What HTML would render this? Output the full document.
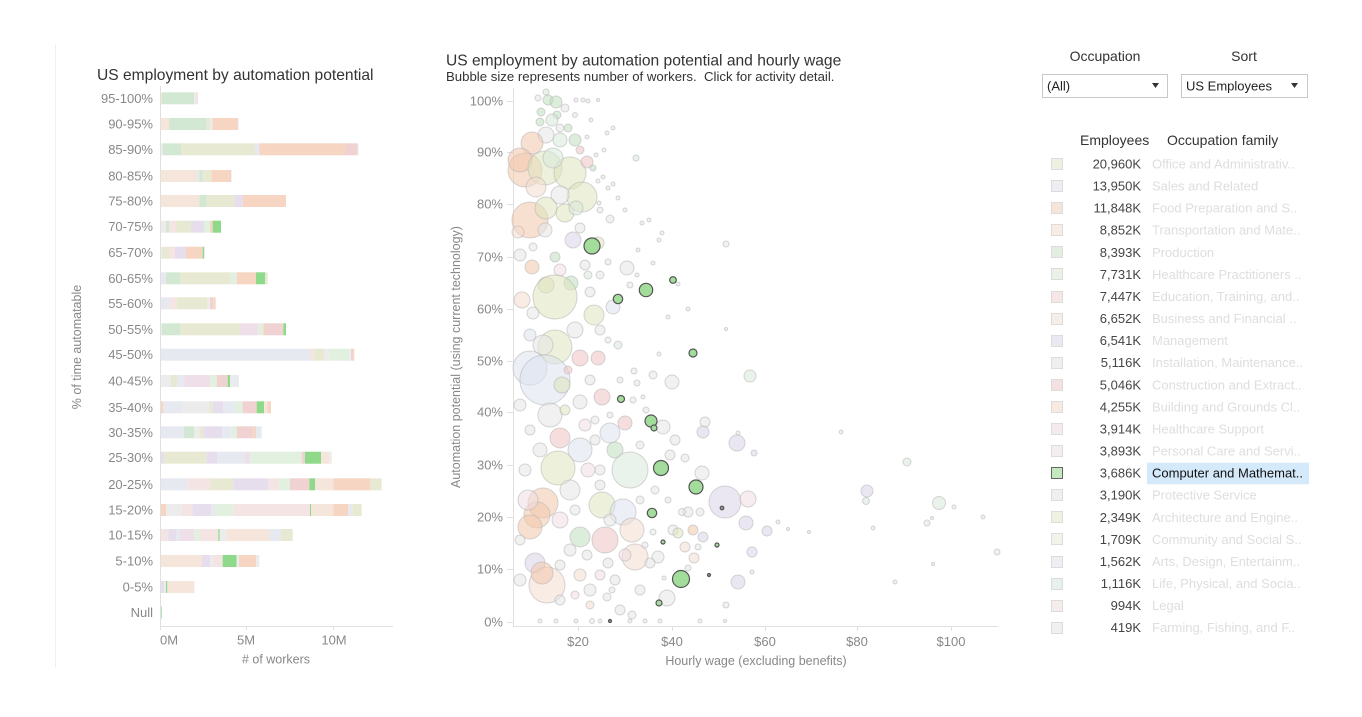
<!DOCTYPE html>
<html><head><meta charset="utf-8"><style>
html,body{margin:0;padding:0;background:#fff;}
body{width:1362px;height:712px;overflow:hidden;}
svg text{font-family:"Liberation Sans",Arial,sans-serif;}
.P{fill:#f6d6c2}.PP{fill:#f6e5da}.G{fill:#d3e8d3}.O{fill:#e8e9d2}.LB{fill:#e7e9f1}.L{fill:#e6deec}
.K{fill:#f0d2d2}.KP{fill:#f4e4e4}.KL{fill:#efdfe9}.GP{fill:#e2f0e0}.Y{fill:#ececec}.Y2{fill:#e9ebee}.BG{fill:#8fd98a}
.b circle{stroke:#b5b5b5;stroke-opacity:.55;stroke-width:1;fill-opacity:.55}
.b .P{fill:#f3c7ab}.b .PP{fill:#f3dccd}.b .G{fill:#bfe0bd}.b .O{fill:#dfe3bb}.b .LB{fill:#dde1ee}.b .L{fill:#dbd4e8}
.b .K{fill:#eec2c2}.b .KP{fill:#f1dde2}.b .GP{fill:#d8eada}.b .Y{fill:#e6e6e6}
.h circle{fill:#a3dd9b;stroke:#555;stroke-width:1.2}
.h circle.d{fill:#999;stroke:#555}
</style></head><body>
<svg width="1362" height="712" viewBox="0 0 1362 712" xmlns="http://www.w3.org/2000/svg">
<line x1="55.5" y1="45" x2="55.5" y2="667" stroke="#efefef"/>

<!-- LEFT CHART -->
<text x="97" y="80" font-size="15.6" fill="#333">US employment by automation potential</text>
<text transform="translate(81,347) rotate(-90)" text-anchor="middle" font-size="12.5" fill="#888">% of time automatable</text>
<g font-size="13" fill="#888" text-anchor="end">
<text x="153" y="102.8">95-100%</text>
<text x="153" y="128.5">90-95%</text>
<text x="153" y="153.8">85-90%</text>
<text x="153" y="180.5">80-85%</text>
<text x="153" y="205.5">75-80%</text>
<text x="153" y="231.2">70-75%</text>
<text x="153" y="257.2">65-70%</text>
<text x="153" y="282.8">60-65%</text>
<text x="153" y="307.8">55-60%</text>
<text x="153" y="333.8">50-55%</text>
<text x="153" y="359.2">45-50%</text>
<text x="153" y="385.5">40-45%</text>
<text x="153" y="411.8">35-40%</text>
<text x="153" y="436.8">30-35%</text>
<text x="153" y="462.2">25-30%</text>
<text x="153" y="488.8">20-25%</text>
<text x="153" y="514.5">15-20%</text>
<text x="153" y="539.5">10-15%</text>
<text x="153" y="565.5">5-10%</text>
<text x="153" y="591.5">0-5%</text>
<text x="153" y="616.8">Null</text>
</g>
<g transform="translate(60,0) scale(0.33333,1)">
<g transform="translate(0,92.3)"><rect x="300" width="5" height="12" class="PP"/><rect x="305" width="98" height="12" class="G"/><rect x="403" width="7" height="12" class="Y"/><rect x="410" width="3" height="12" class="K"/></g>
<g transform="translate(0,118)"><rect x="300" width="27" height="12" class="PP"/><rect x="327" width="113" height="12" class="G"/><rect x="440" width="10" height="12" class="O"/><rect x="450" width="7" height="12" class="Y"/><rect x="457" width="75" height="12" class="P"/><rect x="532" width="3" height="12" class="K"/></g>
<g transform="translate(0,143.3)"><rect x="300" width="8" height="12" class="Y"/><rect x="308" width="55" height="12" class="G"/><rect x="363" width="222" height="12" class="O"/><rect x="585" width="13" height="12" class="LB"/><rect x="598" width="257" height="12" class="P"/><rect x="855" width="38" height="12" class="K"/><rect x="893" width="3" height="12" class="Y"/></g>
<g transform="translate(0,170)"><rect x="300" width="110" height="12" class="PP"/><rect x="410" width="8" height="12" class="LB"/><rect x="418" width="10" height="12" class="G"/><rect x="428" width="27" height="12" class="O"/><rect x="455" width="55" height="12" class="P"/><rect x="510" width="4" height="12" class="K"/></g>
<g transform="translate(0,195)"><rect x="300" width="118" height="12" class="PP"/><rect x="418" width="22" height="12" class="G"/><rect x="440" width="83" height="12" class="O"/><rect x="523" width="25" height="12" class="L"/><rect x="548" width="130" height="12" class="P"/></g>
<g transform="translate(0,220.7)"><rect x="300" width="18" height="12" class="Y"/><rect x="318" width="9" height="12" class="G"/><rect x="327" width="21" height="12" class="KP"/><rect x="348" width="45" height="12" class="O"/><rect x="393" width="39" height="12" class="L"/><rect x="432" width="18" height="12" class="GP"/><rect x="450" width="8" height="12" class="P"/><rect x="458" width="25" height="12" class="BG"/></g>
<g transform="translate(0,246.7)"><rect x="300" width="5" height="12" class="Y"/><rect x="305" width="23" height="12" class="O"/><rect x="328" width="17" height="12" class="KP"/><rect x="345" width="33" height="12" class="L"/><rect x="378" width="50" height="12" class="P"/><rect x="428" width="4" height="12" class="BG"/><rect x="432" width="3" height="12" class="Y"/></g>
<g transform="translate(0,272.3)"><rect x="300" width="18" height="12" class="LB"/><rect x="318" width="42" height="12" class="G"/><rect x="360" width="152" height="12" class="O"/><rect x="512" width="18" height="12" class="GP"/><rect x="530" width="58" height="12" class="P"/><rect x="588" width="27" height="12" class="BG"/><rect x="615" width="8" height="12" class="O"/></g>
<g transform="translate(0,297.3)"><rect x="300" width="28" height="12" class="LB"/><rect x="328" width="22" height="12" class="KP"/><rect x="350" width="93" height="12" class="O"/><rect x="443" width="7" height="12" class="Y"/><rect x="450" width="10" height="12" class="K"/><rect x="460" width="7" height="12" class="P"/></g>
<g transform="translate(0,323.3)"><rect x="300" width="5" height="12" class="Y"/><rect x="305" width="55" height="12" class="G"/><rect x="360" width="180" height="12" class="O"/><rect x="540" width="55" height="12" class="KL"/><rect x="595" width="15" height="12" class="GP"/><rect x="610" width="5" height="12" class="P"/><rect x="615" width="55" height="12" class="K"/><rect x="670" width="8" height="12" class="BG"/></g>
<g transform="translate(0,348.7)"><rect x="300" width="450" height="12" class="LB"/><rect x="750" width="10" height="12" class="KP"/><rect x="760" width="33" height="12" class="O"/><rect x="793" width="15" height="12" class="Y"/><rect x="808" width="60" height="12" class="GP"/><rect x="868" width="5" height="12" class="Y"/><rect x="873" width="7" height="12" class="K"/><rect x="880" width="3" height="12" class="P"/></g>
<g transform="translate(0,375)"><rect x="300" width="33" height="12" class="Y"/><rect x="333" width="20" height="12" class="O"/><rect x="353" width="20" height="12" class="LB"/><rect x="373" width="77" height="12" class="KL"/><rect x="450" width="20" height="12" class="GP"/><rect x="470" width="33" height="12" class="K"/><rect x="503" width="7" height="12" class="BG"/><rect x="510" width="10" height="12" class="Y"/><rect x="520" width="17" height="12" class="Y2"/></g>
<g transform="translate(0,401.3)"><rect x="300" width="10" height="12" class="P"/><rect x="310" width="58" height="12" class="LB"/><rect x="368" width="80" height="12" class="Y"/><rect x="448" width="10" height="12" class="O"/><rect x="458" width="32" height="12" class="L"/><rect x="490" width="35" height="12" class="LB"/><rect x="525" width="23" height="12" class="GP"/><rect x="548" width="42" height="12" class="K"/><rect x="590" width="22" height="12" class="BG"/><rect x="612" width="10" height="12" class="PP"/><rect x="622" width="11" height="12" class="P"/></g>
<g transform="translate(0,426.3)"><rect x="300" width="72" height="12" class="LB"/><rect x="372" width="31" height="12" class="G"/><rect x="403" width="15" height="12" class="Y"/><rect x="418" width="12" height="12" class="O"/><rect x="430" width="56" height="12" class="L"/><rect x="486" width="29" height="12" class="LB"/><rect x="515" width="15" height="12" class="GP"/><rect x="530" width="50" height="12" class="K"/><rect x="580" width="8" height="12" class="P"/><rect x="588" width="17" height="12" class="LB"/></g>
<g transform="translate(0,451.7)"><rect x="300" width="13" height="12" class="L"/><rect x="313" width="127" height="12" class="O"/><rect x="440" width="32" height="12" class="L"/><rect x="472" width="83" height="12" class="LB"/><rect x="555" width="15" height="12" class="KL"/><rect x="570" width="155" height="12" class="GP"/><rect x="725" width="10" height="12" class="K"/><rect x="735" width="48" height="12" class="BG"/><rect x="783" width="25" height="12" class="PP"/><rect x="808" width="7" height="12" class="Y"/></g>
<g transform="translate(0,478.3)"><rect x="300" width="83" height="12" class="LB"/><rect x="383" width="67" height="12" class="KP"/><rect x="450" width="70" height="12" class="O"/><rect x="520" width="105" height="12" class="L"/><rect x="625" width="33" height="12" class="KP"/><rect x="658" width="32" height="12" class="GP"/><rect x="690" width="58" height="12" class="K"/><rect x="748" width="17" height="12" class="BG"/><rect x="765" width="55" height="12" class="PP"/><rect x="820" width="110" height="12" class="P"/><rect x="930" width="35" height="12" class="O"/></g>
<g transform="translate(0,504)"><rect x="300" width="18" height="12" class="P"/><rect x="318" width="47" height="12" class="Y"/><rect x="365" width="32" height="12" class="KP"/><rect x="397" width="56" height="12" class="L"/><rect x="453" width="12" height="12" class="LB"/><rect x="465" width="55" height="12" class="GP"/><rect x="520" width="230" height="12" class="KP"/><rect x="750" width="3" height="12" class="BG"/><rect x="753" width="67" height="12" class="PP"/><rect x="820" width="45" height="12" class="P"/><rect x="865" width="12" height="12" class="LB"/><rect x="877" width="28" height="12" class="O"/></g>
<g transform="translate(0,529)"><rect x="300" width="25" height="12" class="KP"/><rect x="325" width="25" height="12" class="L"/><rect x="350" width="10" height="12" class="LB"/><rect x="360" width="43" height="12" class="KL"/><rect x="403" width="17" height="12" class="GP"/><rect x="420" width="55" height="12" class="KP"/><rect x="475" width="4" height="12" class="BG"/><rect x="479" width="21" height="12" class="Y"/><rect x="500" width="128" height="12" class="PP"/><rect x="628" width="35" height="12" class="LB"/><rect x="663" width="35" height="12" class="O"/></g>
<g transform="translate(0,555)"><rect x="300" width="126" height="12" class="PP"/><rect x="426" width="24" height="12" class="L"/><rect x="450" width="8" height="12" class="Y"/><rect x="458" width="30" height="12" class="KP"/><rect x="488" width="42" height="12" class="BG"/><rect x="530" width="7" height="12" class="Y"/><rect x="537" width="51" height="12" class="P"/><rect x="588" width="10" height="12" class="Y"/></g>
<g transform="translate(0,581)"><rect x="300" width="13" height="12" class="L"/><rect x="313" width="5" height="12" class="Y"/><rect x="318" width="4" height="12" class="BG"/><rect x="322" width="81" height="12" class="PP"/></g>
<g transform="translate(0,606.3)"><rect x="300" width="5" height="12" class="BG"/></g>
</g>
<line x1="160.5" y1="86" x2="160.5" y2="630" stroke="#e0e0e0"/>
<line x1="160" y1="626.5" x2="393" y2="626.5" stroke="#e0e0e0"/>
<line x1="246.5" y1="626" x2="246.5" y2="630" stroke="#e0e0e0"/>
<line x1="333.5" y1="626" x2="333.5" y2="630" stroke="#e0e0e0"/>
<g font-size="13" fill="#888">
<text x="160" y="644.5">0M</text>
<text x="246" y="644.5" text-anchor="middle">5M</text>
<text x="334" y="644.5" text-anchor="middle">10M</text>
<text x="276" y="663.5" text-anchor="middle" font-size="12.5">#&#160;of workers</text>
</g>

<!-- SCATTER -->
<text x="446" y="65.5" font-size="15.6" fill="#333">US employment by automation potential and hourly wage</text>
<text x="446" y="81" font-size="13.2" fill="#333" xml:space="preserve">Bubble size represents number of workers.  Click for activity detail.</text>
<text transform="translate(460,357) rotate(-90)" text-anchor="middle" font-size="12.5" fill="#888">Automation potential (using current technology)</text>
<g font-size="13" fill="#888" text-anchor="end">
<text x="503" y="105.5">100%</text>
<text x="503" y="156.5">90%</text>
<text x="503" y="208.5">80%</text>
<text x="503" y="261.5">70%</text>
<text x="503" y="313.5">60%</text>
<text x="503" y="365.5">50%</text>
<text x="503" y="416.5">40%</text>
<text x="503" y="469.5">30%</text>
<text x="503" y="521.5">20%</text>
<text x="503" y="573.5">10%</text>
<text x="503" y="626.5">0%</text>
</g>
<g stroke="#e0e0e0">
<line x1="513.5" y1="88" x2="513.5" y2="627" />
<line x1="513" y1="626.5" x2="998" y2="626.5" />
<line x1="507" y1="101.5" x2="513" y2="101.5"/><line x1="507" y1="152.5" x2="513" y2="152.5"/>
<line x1="507" y1="204.5" x2="513" y2="204.5"/><line x1="507" y1="257.5" x2="513" y2="257.5"/>
<line x1="507" y1="309.5" x2="513" y2="309.5"/><line x1="507" y1="361.5" x2="513" y2="361.5"/>
<line x1="507" y1="412.5" x2="513" y2="412.5"/><line x1="507" y1="465.5" x2="513" y2="465.5"/>
<line x1="507" y1="517.5" x2="513" y2="517.5"/><line x1="507" y1="569.5" x2="513" y2="569.5"/>
<line x1="507" y1="622.5" x2="513" y2="622.5"/>
<line x1="578.5" y1="626" x2="578.5" y2="631"/><line x1="672.5" y1="626" x2="672.5" y2="631"/>
<line x1="765.5" y1="626" x2="765.5" y2="631"/><line x1="857.5" y1="626" x2="857.5" y2="631"/>
<line x1="951.5" y1="626" x2="951.5" y2="631"/>
</g>
<g font-size="13" fill="#888" text-anchor="middle">
<text x="578" y="646">$20</text>
<text x="672" y="646">$40</text>
<text x="765" y="646">$60</text>
<text x="857" y="646">$80</text>
<text x="951" y="646">$100</text>
<text x="756" y="665" font-size="12.5">Hourly wage (excluding benefits)</text>
</g>

<g class="b">
<circle cx="548" cy="100" r="5" class="G"/><circle cx="556" cy="102" r="6" class="G"/><circle cx="541" cy="112" r="4" class="G"/>
<circle cx="557" cy="115" r="4" class="G"/><circle cx="540" cy="122" r="4" class="G"/><circle cx="568" cy="128" r="4" class="G"/>
<circle cx="552" cy="120" r="6" class="GP"/><circle cx="565" cy="108" r="4" class="Y"/><circle cx="546" cy="92" r="3" class="GP"/>
<circle cx="576" cy="100" r="2" class="Y"/><circle cx="583" cy="100" r="2" class="Y"/><circle cx="588" cy="101" r="2" class="Y"/><circle cx="598" cy="100" r="1.5" class="Y"/>
<circle cx="575" cy="115" r="2.5" class="Y"/><circle cx="591" cy="120" r="2" class="Y"/><circle cx="613" cy="128" r="2" class="Y"/><circle cx="607" cy="133" r="2" class="Y"/>
<circle cx="546" cy="135" r="8" class="Y"/><circle cx="560" cy="140" r="7" class="GP"/><circle cx="575" cy="140" r="6" class="G"/><circle cx="587" cy="137" r="2" class="Y"/>
<circle cx="532" cy="143" r="11" class="P"/><circle cx="525" cy="170" r="17" class="P"/><circle cx="520" cy="160" r="12" class="P"/>
<circle cx="545" cy="168" r="17" class="O"/><circle cx="570" cy="173" r="16" class="O"/><circle cx="553" cy="158" r="10" class="GP"/>
<circle cx="587" cy="162" r="6" class="K"/><circle cx="593" cy="168" r="3" class="G"/><circle cx="596" cy="155" r="2" class="Y"/><circle cx="604" cy="150" r="2" class="Y"/>
<circle cx="636" cy="158" r="3" class="GP"/><circle cx="536" cy="187" r="10" class="PP"/><circle cx="582" cy="197" r="15" class="O"/><circle cx="560" cy="195" r="9" class="Y"/>
<circle cx="603" cy="177" r="2" class="Y"/><circle cx="598" cy="181" r="2" class="Y"/><circle cx="613" cy="184" r="2" class="Y"/><circle cx="608" cy="188" r="2" class="Y"/>
<circle cx="618" cy="198" r="2" class="Y"/><circle cx="599" cy="203" r="2" class="Y"/><circle cx="625" cy="210" r="2" class="Y"/>
<circle cx="530" cy="220" r="18" class="P"/><circle cx="546" cy="208" r="11" class="O"/><circle cx="565" cy="213" r="9" class="O"/><circle cx="576" cy="208" r="7" class="GP"/>
<circle cx="545" cy="230" r="7" class="Y"/><circle cx="610" cy="219" r="4" class="Y"/><circle cx="642" cy="223" r="2" class="Y"/><circle cx="649" cy="220" r="2" class="Y"/>
<circle cx="662" cy="233" r="2" class="Y"/><circle cx="659" cy="240" r="2" class="Y"/><circle cx="573" cy="240" r="8" class="L"/><circle cx="598" cy="243" r="6" class="O"/>
<circle cx="533" cy="247" r="4" class="Y"/><circle cx="555" cy="257" r="5" class="G"/><circle cx="638" cy="250" r="2" class="Y"/><circle cx="532" cy="267" r="7" class="P"/>
<circle cx="571" cy="283" r="7" class="G"/><circle cx="627" cy="268" r="7" class="Y"/><circle cx="653" cy="263" r="2" class="Y"/><circle cx="637" cy="275" r="2" class="Y"/>
<circle cx="560" cy="270" r="6" class="KP"/><circle cx="585" cy="265" r="5" class="Y"/><circle cx="600" cy="275" r="4" class="Y"/><circle cx="546" cy="285" r="8" class="O"/>
<circle cx="555" cy="297" r="22" class="O"/><circle cx="594" cy="315" r="10" class="O"/><circle cx="613" cy="307" r="7" class="LB"/><circle cx="533" cy="313" r="6" class="Y"/>
<circle cx="522" cy="300" r="8" class="PP"/><circle cx="678" cy="284" r="2" class="Y"/><circle cx="688" cy="309" r="2" class="Y"/><circle cx="668" cy="317" r="2" class="Y"/>
<circle cx="726" cy="244" r="3" class="Y"/><circle cx="726" cy="329" r="1.5" class="Y"/><circle cx="630" cy="285" r="3" class="Y"/><circle cx="575" cy="330" r="8" class="Y"/>
<circle cx="600" cy="330" r="5" class="Y"/><circle cx="530" cy="335" r="6" class="LB"/><circle cx="590" cy="292" r="5" class="Y"/><circle cx="520" cy="255" r="6" class="Y"/>
<circle cx="580" cy="228" r="5" class="Y"/><circle cx="518" cy="232" r="6" class="PP"/><circle cx="588" cy="275" r="4" class="GP"/><circle cx="608" cy="262" r="3" class="Y"/>
<circle cx="538" cy="98" r="3" class="Y"/><circle cx="560" cy="128" r="4" class="Y"/><circle cx="580" cy="150" r="4" class="K"/><circle cx="600" cy="210" r="3" class="Y"/>
<circle cx="555" cy="347" r="17" class="O"/><circle cx="543" cy="345" r="10" class="Y"/><circle cx="580" cy="358" r="8" class="K"/><circle cx="598" cy="358" r="7" class="K"/>
<circle cx="530" cy="368" r="17" class="LB"/><circle cx="545" cy="380" r="25" class="LB"/><circle cx="562" cy="385" r="8" class="O"/><circle cx="580" cy="402" r="7" class="Y"/>
<circle cx="550" cy="415" r="12" class="Y"/><circle cx="602" cy="397" r="8" class="K"/><circle cx="625" cy="423" r="7" class="K"/><circle cx="610" cy="433" r="10" class="LB"/>
<circle cx="615" cy="450" r="8" class="G"/><circle cx="560" cy="438" r="10" class="K"/><circle cx="580" cy="450" r="12" class="LB"/><circle cx="558" cy="468" r="17" class="O"/>
<circle cx="630" cy="470" r="18" class="GP"/><circle cx="570" cy="490" r="10" class="Y"/><circle cx="663" cy="427" r="7" class="Y"/><circle cx="670" cy="455" r="5" class="Y"/>
<circle cx="675" cy="440" r="5" class="Y"/><circle cx="685" cy="458" r="4" class="Y"/><circle cx="672" cy="382" r="7" class="Y"/><circle cx="653" cy="375" r="4" class="Y"/>
<circle cx="659" cy="354" r="2" class="Y"/><circle cx="634" cy="371" r="3" class="Y"/><circle cx="637" cy="383" r="3" class="Y"/><circle cx="643" cy="397" r="2" class="Y"/>
<circle cx="646" cy="410" r="3" class="Y"/><circle cx="633" cy="400" r="3" class="Y"/><circle cx="702" cy="473" r="7" class="Y"/><circle cx="703" cy="432" r="6" class="L"/>
<circle cx="705" cy="422" r="5" class="Y"/><circle cx="737" cy="443" r="8" class="L"/><circle cx="738" cy="433" r="2" class="Y"/><circle cx="754" cy="453" r="3" class="L"/>
<circle cx="750" cy="376" r="6" class="GP"/><circle cx="841" cy="432" r="2" class="Y"/><circle cx="590" cy="380" r="5" class="Y"/><circle cx="595" cy="420" r="4" class="Y"/>
<circle cx="520" cy="405" r="6" class="Y"/><circle cx="530" cy="430" r="5" class="Y"/><circle cx="600" cy="470" r="5" class="Y"/><circle cx="610" cy="415" r="3" class="Y"/>
<circle cx="620" cy="380" r="3" class="Y"/><circle cx="585" cy="425" r="6" class="KP"/><circle cx="540" cy="450" r="7" class="Y"/><circle cx="525" cy="470" r="6" class="Y"/>
<circle cx="588" cy="470" r="7" class="KP"/><circle cx="600" cy="485" r="5" class="Y"/><circle cx="618" cy="345" r="4" class="GP"/><circle cx="608" cy="340" r="3" class="Y"/>
<circle cx="565" cy="410" r="5" class="O"/><circle cx="595" cy="440" r="5" class="Y"/><circle cx="640" cy="445" r="4" class="Y"/><circle cx="568" cy="370" r="4" class="K"/>
<circle cx="543" cy="503" r="15" class="P"/><circle cx="537" cy="515" r="13" class="P"/><circle cx="530" cy="527" r="12" class="P"/><circle cx="528" cy="500" r="10" class="KP"/>
<circle cx="602" cy="505" r="13" class="O"/><circle cx="623" cy="512" r="13" class="LB"/><circle cx="632" cy="530" r="12" class="PP"/><circle cx="605" cy="540" r="13" class="K"/>
<circle cx="580" cy="537" r="10" class="G"/><circle cx="635" cy="557" r="13" class="PP"/><circle cx="535" cy="563" r="10" class="L"/><circle cx="547" cy="585" r="18" class="PP"/>
<circle cx="542" cy="573" r="11" class="P"/><circle cx="587" cy="555" r="5" class="Y"/><circle cx="667" cy="598" r="8" class="Y"/><circle cx="620" cy="610" r="5" class="Y"/>
<circle cx="632" cy="615" r="4" class="Y"/><circle cx="607" cy="597" r="4" class="Y"/><circle cx="608" cy="563" r="5" class="Y"/><circle cx="668" cy="500" r="3" class="Y"/>
<circle cx="688" cy="512" r="5" class="Y"/><circle cx="682" cy="512" r="3.5" class="Y"/><circle cx="700" cy="512" r="4" class="Y"/><circle cx="673" cy="530" r="5" class="Y"/>
<circle cx="653" cy="532" r="3" class="Y"/><circle cx="678" cy="533" r="5" class="O"/><circle cx="693" cy="530" r="5" class="P"/><circle cx="703" cy="537" r="5" class="L"/>
<circle cx="685" cy="547" r="5" class="PP"/><circle cx="694" cy="558" r="5" class="PP"/><circle cx="658" cy="557" r="6" class="Y"/><circle cx="650" cy="563" r="5" class="Y"/>
<circle cx="688" cy="568" r="3" class="Y"/><circle cx="664" cy="578" r="2" class="Y"/><circle cx="698" cy="547" r="3" class="Y"/>
<circle cx="725" cy="502" r="16" class="L"/><circle cx="748" cy="499" r="8" class="KP"/><circle cx="746" cy="523" r="7" class="L"/><circle cx="767" cy="531" r="5" class="L"/>
<circle cx="778" cy="522" r="2" class="Y"/><circle cx="788" cy="529" r="1.5" class="Y"/><circle cx="809" cy="532" r="1.5" class="Y"/><circle cx="752" cy="552" r="5" class="L"/>
<circle cx="738" cy="582" r="7" class="L"/><circle cx="726" cy="605" r="3" class="Y"/><circle cx="752" cy="572" r="2" class="Y"/><circle cx="725" cy="621" r="1.5" class="Y"/>
<circle cx="867" cy="491" r="6" class="L"/><circle cx="866" cy="501" r="3.5" class="GP"/><circle cx="907" cy="462" r="4" class="GP"/><circle cx="939" cy="503" r="6.5" class="GP"/>
<circle cx="954" cy="507" r="2" class="Y"/><circle cx="983" cy="517" r="2" class="Y"/><circle cx="927" cy="523" r="3" class="Y"/><circle cx="932" cy="518" r="1.5" class="Y"/>
<circle cx="997" cy="552" r="3" class="Y"/><circle cx="933" cy="564" r="1.5" class="Y"/><circle cx="895" cy="582" r="2" class="Y"/><circle cx="873" cy="528" r="2" class="Y"/>
<circle cx="540" cy="621" r="2" class="Y"/><circle cx="556" cy="621" r="2" class="Y"/><circle cx="576" cy="621" r="2" class="Y"/><circle cx="592" cy="621" r="2.5" class="Y"/>
<circle cx="600" cy="621" r="2" class="Y"/><circle cx="630" cy="621" r="2" class="Y"/><circle cx="645" cy="621" r="2" class="Y"/><circle cx="660" cy="621" r="2" class="Y"/><circle cx="700" cy="621" r="2" class="Y"/>
<circle cx="570" cy="550" r="6" class="Y"/><circle cx="520" cy="540" r="5" class="Y"/><circle cx="560" cy="600" r="5" class="Y"/><circle cx="590" cy="590" r="6" class="Y"/>
<circle cx="600" cy="575" r="5" class="KP"/><circle cx="615" cy="580" r="5" class="Y"/><circle cx="640" cy="590" r="5" class="Y"/><circle cx="625" cy="555" r="6" class="KP"/>
<circle cx="520" cy="580" r="6" class="Y"/><circle cx="575" cy="510" r="5" class="Y"/><circle cx="560" cy="520" r="8" class="KP"/><circle cx="655" cy="490" r="4" class="Y"/>
<circle cx="640" cy="500" r="4" class="Y"/><circle cx="645" cy="545" r="3" class="Y"/><circle cx="610" cy="520" r="6" class="Y"/><circle cx="580" cy="575" r="6" class="PP"/>
<circle cx="590" cy="605" r="4" class="PP"/><circle cx="560" cy="565" r="5" class="Y"/><circle cx="575" cy="595" r="4" class="KP"/><circle cx="612" cy="590" r="3" class="Y"/>
</g>
<g class="h">
<circle cx="592" cy="246" r="8"/><circle cx="618" cy="299" r="4.7"/><circle cx="646" cy="290" r="6.7"/><circle cx="673" cy="280" r="3.3"/>
<circle cx="693" cy="353" r="4"/><circle cx="621" cy="399" r="3.5"/><circle cx="651" cy="421" r="6"/><circle cx="654" cy="428" r="3"/>
<circle cx="661" cy="468" r="7.5"/><circle cx="696" cy="487" r="7"/><circle cx="652" cy="513" r="4.7"/><circle cx="663" cy="542" r="2"/>
<circle cx="681" cy="579" r="8.5"/><circle cx="659" cy="603" r="3"/><circle cx="717" cy="545" r="2"/>
<circle class="d" cx="722" cy="508" r="1.8"/><circle class="d" cx="709" cy="575" r="1.5"/><circle class="d" cx="610" cy="621" r="1.5"/>
</g>

<!-- RIGHT PANEL -->
<g font-size="14" fill="#333" text-anchor="middle">
<text x="1105" y="61">Occupation</text>
<text x="1244" y="61">Sort</text>
</g>
<rect x="1042.5" y="74.5" width="125" height="23" fill="#fff" stroke="#c8c8c8"/>
<rect x="1181.5" y="74.5" width="126" height="23" fill="#fff" stroke="#c8c8c8"/>
<text x="1047" y="90.5" font-size="13" fill="#222">(All)</text>
<text x="1186" y="90.5" font-size="13" fill="#222">US Employees</text>
<path d="M1152 83 L1159 83 L1155.5 88 Z" fill="#333"/>
<path d="M1291 83 L1298 83 L1294.5 88 Z" fill="#333"/>
<text x="1080" y="145" font-size="14" fill="#333">Employees</text>
<text x="1167" y="145" font-size="14" fill="#333">Occupation family</text>
<rect x="1147" y="462.7" width="162" height="21.5" fill="#d4e9fa"/>
<g stroke="#dcdcdc">
<rect x="1051.5" y="158.5" width="11" height="11" fill="#eef0e0"/>
<rect x="1051.5" y="180.5" width="11" height="11" fill="#eceef3"/>
<rect x="1051.5" y="202.5" width="11" height="11" fill="#f7e4d8"/>
<rect x="1051.5" y="224.5" width="11" height="11" fill="#f7ede5"/>
<rect x="1051.5" y="246.5" width="11" height="11" fill="#e2eee2"/>
<rect x="1051.5" y="268.5" width="11" height="11" fill="#eaf2e8"/>
<rect x="1051.5" y="291.5" width="11" height="11" fill="#f6e6e6"/>
<rect x="1051.5" y="313.5" width="11" height="11" fill="#f6eee8"/>
<rect x="1051.5" y="335.5" width="11" height="11" fill="#eae8f0"/>
<rect x="1051.5" y="357.5" width="11" height="11" fill="#efeff1"/>
<rect x="1051.5" y="379.5" width="11" height="11" fill="#f4e1e1"/>
<rect x="1051.5" y="401.5" width="11" height="11" fill="#f8eae0"/>
<rect x="1051.5" y="423.5" width="11" height="11" fill="#f3ebf0"/>
<rect x="1051.5" y="445.5" width="11" height="11" fill="#f5eeee"/>
<rect x="1051.5" y="489.5" width="11" height="11" fill="#efeff0"/>
<rect x="1051.5" y="511.5" width="11" height="11" fill="#eff1e2"/>
<rect x="1051.5" y="533.5" width="11" height="11" fill="#f2f4e9"/>
<rect x="1051.5" y="556.5" width="11" height="11" fill="#edeff2"/>
<rect x="1051.5" y="578.5" width="11" height="11" fill="#e9f0f0"/>
<rect x="1051.5" y="600.5" width="11" height="11" fill="#f5ecec"/>
<rect x="1051.5" y="622.5" width="11" height="11" fill="#eef0f2"/>
</g>
<rect x="1051.5" y="467.5" width="11" height="11" fill="#c6e8c0" stroke="#666"/>
<g font-size="13" fill="#444" text-anchor="end">
<text x="1141" y="168.5">20,960K</text>
<text x="1141" y="190.6">13,950K</text>
<text x="1141" y="212.7">11,848K</text>
<text x="1141" y="234.7">8,852K</text>
<text x="1141" y="256.8">8,393K</text>
<text x="1141" y="278.9">7,731K</text>
<text x="1141" y="301">7,447K</text>
<text x="1141" y="323.1">6,652K</text>
<text x="1141" y="345.1">6,541K</text>
<text x="1141" y="367.2">5,116K</text>
<text x="1141" y="389.3">5,046K</text>
<text x="1141" y="411.4">4,255K</text>
<text x="1141" y="433.5">3,914K</text>
<text x="1141" y="455.5">3,893K</text>
<text x="1141" y="477.6">3,686K</text>
<text x="1141" y="499.7">3,190K</text>
<text x="1141" y="521.8">2,349K</text>
<text x="1141" y="543.8">1,709K</text>
<text x="1141" y="565.9">1,562K</text>
<text x="1141" y="588">1,116K</text>
<text x="1141" y="610.1">994K</text>
<text x="1141" y="632.2">419K</text>
</g>
<g font-size="13" fill="#dedede">
<text x="1152" y="168.5">Office and Administrativ..</text>
<text x="1152" y="190.6">Sales and Related</text>
<text x="1152" y="212.7">Food Preparation and S..</text>
<text x="1152" y="234.7">Transportation and Mate..</text>
<text x="1152" y="256.8">Production</text>
<text x="1152" y="278.9">Healthcare Practitioners ..</text>
<text x="1152" y="301">Education, Training, and..</text>
<text x="1152" y="323.1">Business and Financial ..</text>
<text x="1152" y="345.1">Management</text>
<text x="1152" y="367.2">Installation, Maintenance..</text>
<text x="1152" y="389.3">Construction and Extract..</text>
<text x="1152" y="411.4">Building and Grounds Cl..</text>
<text x="1152" y="433.5">Healthcare Support</text>
<text x="1152" y="455.5">Personal Care and Servi..</text>
<text x="1152" y="477.6" fill="#111">Computer and Mathemat..</text>
<text x="1152" y="499.7">Protective Service</text>
<text x="1152" y="521.8">Architecture and Engine..</text>
<text x="1152" y="543.8">Community and Social S..</text>
<text x="1152" y="565.9">Arts, Design, Entertainm..</text>
<text x="1152" y="588">Life, Physical, and Socia..</text>
<text x="1152" y="610.1">Legal</text>
<text x="1152" y="632.2">Farming, Fishing, and F..</text>
</g>
</svg>
</body></html>
